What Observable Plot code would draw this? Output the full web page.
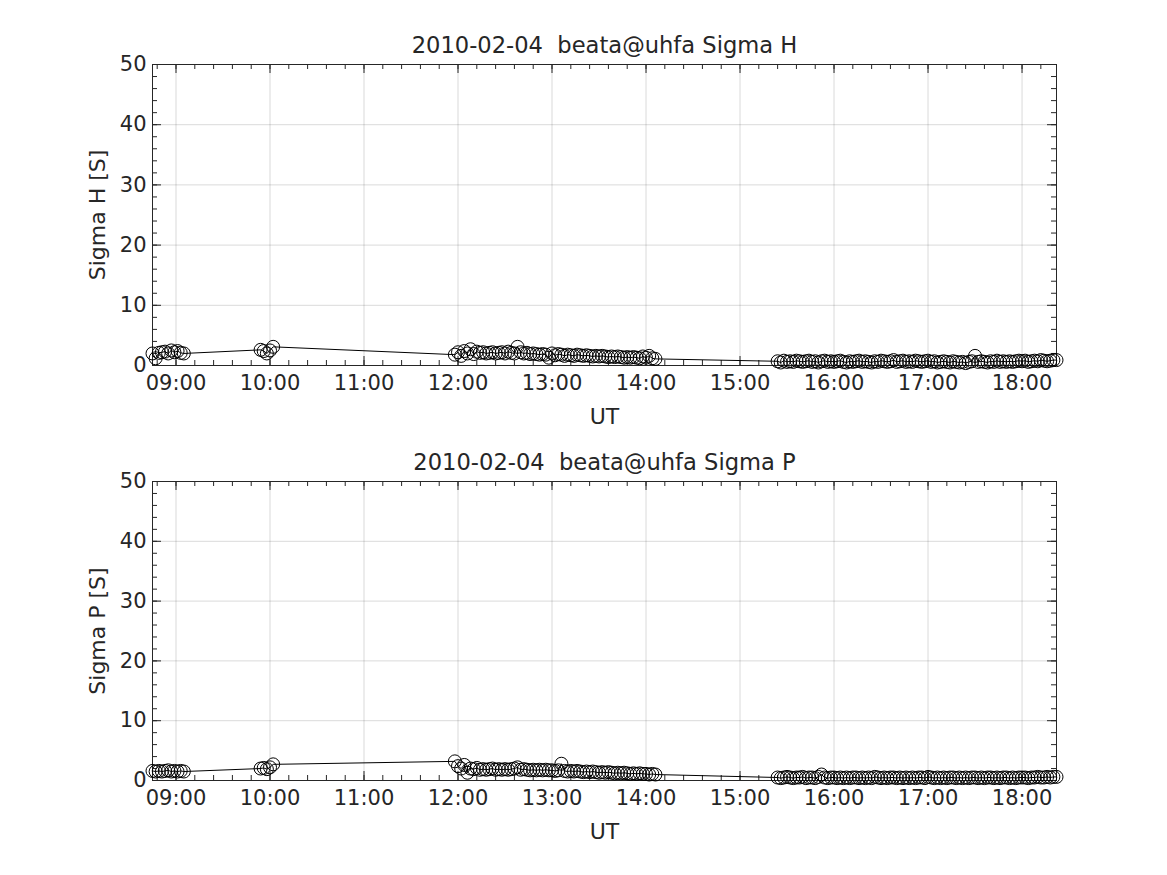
<!DOCTYPE html>
<html>
<head>
<meta charset="utf-8">
<script src="https://cdn.jsdelivr.net/npm/d3@7"></script>
<script src="https://cdn.jsdelivr.net/npm/@observablehq/plot@0.6"></script>
<style>
  html, body { margin: 0; padding: 0; background: #fff; }
  #wrap { width: 1167px; height: 875px; position: relative; background: #fff; }
  #wrap svg { display: block; font-family: "DejaVu Sans", sans-serif; }
</style>
</head>
<body>
<div id="wrap"></div>
<script>
const day = "2010-02-04";
const times = `
08:45 08:47 08:49 08:51 08:53 08:55 08:57 08:59 09:01 09:03 09:05
09:54 09:56 09:58 10:00 10:02
11:58 12:00 12:02 12:04 12:06 12:08 12:10 12:12 12:14 12:16 12:18 12:20 12:22 12:24 12:26 12:28 12:30 12:32 12:34 12:36 12:38 12:40 12:42 12:44 12:46 12:48 12:50 12:52 12:54 12:56 12:58
13:00 13:02 13:04 13:06 13:08 13:10 13:12 13:14 13:16 13:18 13:20 13:22 13:24 13:26 13:28 13:30 13:32 13:34 13:36 13:38 13:40 13:42 13:44 13:46 13:48 13:50 13:52 13:54 13:56 13:58
14:00 14:02 14:04 14:06
15:24 15:26 15:28 15:30 15:32 15:34 15:36 15:38 15:40 15:42 15:44 15:46 15:48 15:50 15:52 15:54 15:56 15:58
16:00 16:02 16:04 16:06 16:08 16:10 16:12 16:14 16:16 16:18 16:20 16:22 16:24 16:26 16:28 16:30 16:32 16:34 16:36 16:38 16:40 16:42 16:44 16:46 16:48 16:50 16:52 16:54 16:56 16:58
17:00 17:02 17:04 17:06 17:08 17:10 17:12 17:14 17:16 17:18 17:20 17:22 17:24 17:26 17:28 17:30 17:32 17:34 17:36 17:38 17:40 17:42 17:44 17:46 17:48 17:50 17:52 17:54 17:56 17:58
18:00 18:02 18:04 18:06 18:08 18:10 18:12 18:14 18:16 18:18 18:20 18:22
`.trim().split(/\s+/);

const sigmaH = [
  2.0, 1.2, 2.1, 2.2, 2.3, 2.0, 2.5, 2.2, 2.4, 2.1, 2.0,
  2.6, 2.4, 2.0, 2.5, 3.1,
  1.8, 2.2, 1.6, 2.4, 2.0, 2.7, 1.9, 2.3, 2.1, 2.2, 2.0, 2.1, 2.2, 2.0, 2.1, 2.2, 2.0, 2.3, 2.1, 2.0, 3.1, 2.2, 2.0, 2.1, 1.9, 2.0, 1.9, 1.8, 1.9, 1.8, 1.3,
  2.0, 1.7, 1.9, 1.8, 1.6, 1.8, 1.7, 1.6, 1.8, 1.7, 1.6, 1.7, 1.6, 1.5, 1.6, 1.5, 1.6, 1.5, 1.4, 1.5, 1.4, 1.5, 1.4, 1.3, 1.4, 1.3, 1.4, 1.3, 1.2, 1.5,
  1.3, 1.6, 1.2, 1.1,
  0.7, 0.5, 0.8, 0.6, 0.7, 0.6, 0.8, 0.7, 0.6, 0.7, 0.8, 0.6, 0.7, 0.5, 0.7, 0.8, 0.6, 0.7,
  0.6, 0.7, 0.8, 0.6, 0.5, 0.7, 0.6, 0.7, 0.8, 0.6, 0.7, 0.6, 0.5, 0.7, 0.6, 0.8, 0.7, 0.6, 0.7, 0.9, 0.6, 0.7, 0.8, 0.6, 0.7, 0.6, 0.8, 0.7, 0.6, 0.7,
  0.8, 0.6, 0.7, 0.5, 0.6, 0.7, 0.6, 0.5, 0.7, 0.6, 0.5, 0.6, 0.4, 0.6, 0.7, 1.6, 0.6, 0.7, 0.6, 0.5, 0.7, 0.6, 0.8, 0.6, 0.7, 0.6, 0.7, 0.6, 0.7, 0.8,
  0.7, 0.8, 0.6, 0.7, 0.8, 0.7, 0.9, 0.8, 0.7, 0.8, 0.9, 0.9
];

const sigmaP = [
  1.6, 1.5, 1.6, 1.5, 1.6, 1.7, 1.5, 1.6, 1.5, 1.6, 1.5,
  2.0, 2.1, 1.9, 2.2, 2.7,
  3.2, 2.4, 2.0, 2.6, 1.3, 2.0, 1.9, 2.1, 1.8, 1.9, 1.8, 1.9, 2.0, 1.8, 1.9, 1.8, 1.9, 1.8, 1.9, 2.0, 2.2, 1.8, 1.9, 1.8, 1.7, 1.8, 1.7, 1.8, 1.7, 1.8, 1.7,
  1.7, 1.6, 1.7, 2.8, 1.6, 1.5, 1.6, 1.5, 1.6, 1.5, 1.4, 1.5, 1.4, 1.5, 1.4, 1.3, 1.4, 1.3, 1.4, 1.3, 1.2, 1.3, 1.2, 1.3, 1.2, 1.1, 1.2, 1.1, 1.2, 1.1,
  1.1, 1.0, 1.1, 1.0,
  0.5, 0.4, 0.5, 0.6, 0.5, 0.4, 0.5, 0.5, 0.6, 0.4, 0.5, 0.5, 0.4, 0.6, 1.0, 0.5, 0.4, 0.5,
  0.5, 0.4, 0.5, 0.4, 0.5, 0.4, 0.5, 0.5, 0.4, 0.5, 0.4, 0.5, 0.4, 0.6, 0.5, 0.4, 0.5, 0.4, 0.5, 0.5, 0.4, 0.5, 0.4, 0.5, 0.4, 0.5, 0.4, 0.5, 0.5, 0.4,
  0.6, 0.5, 0.4, 0.5, 0.4, 0.5, 0.4, 0.5, 0.5, 0.4, 0.5, 0.4, 0.5, 0.4, 0.5, 0.5, 0.4, 0.5, 0.4, 0.5, 0.5, 0.4, 0.5, 0.4, 0.5, 0.5, 0.4, 0.5, 0.4, 0.5,
  0.5, 0.5, 0.4, 0.5, 0.5, 0.6, 0.5, 0.5, 0.6, 0.5, 0.6, 0.6
];

const xTickLabels = ["09:00","10:00","11:00","12:00","13:00","14:00","15:00","16:00","17:00","18:00"];
const yTicks = [0, 10, 20, 30, 40, 50];
const titles = ["2010-02-04  beata@uhfa Sigma H", "2010-02-04  beata@uhfa Sigma P"];
const yLabels = ["Sigma H [S]", "Sigma P [S]"];
const xLabel = "UT";

const toDate = t => new Date(`${day}T${t}:00Z`);
const xDomain = [toDate(times[0]), toDate(times[times.length - 1])];
const xMajor = xTickLabels.map(toDate);
const xMinor = d3.utcMinute.every(12).range(xDomain[0], new Date(+xDomain[1] + 1));
const yMinor = d3.range(0, 51, 2);

const W = 1167, ML = 152, MR = 1167 - 1056;
const PW = W - ML - MR;
const ink = "#262626";
const FS = 21, LFS = 22, TFS = 22.6;

function panel(values, title, ylabel, height, marginTop, marginBottom) {
  const data = times.map((t, i) => ({t: toDate(t), v: values[i]}));
  const PH = height - marginTop - marginBottom;
  return Plot.plot({
    width: W, height, marginLeft: ML, marginRight: MR, marginTop, marginBottom,
    style: {fontFamily: "DejaVu Sans, sans-serif", fontSize: FS + "px", color: ink, background: "#fff", overflow: "visible"},
    x: {type: "utc", domain: xDomain, axis: null},
    y: {domain: [0, 50], axis: null},
    marks: [
      Plot.ruleX(xMajor, {stroke: "#000", strokeOpacity: 0.15}),
      Plot.ruleY(yTicks, {stroke: "#000", strokeOpacity: 0.15}),
      Plot.tickX(xMajor, {stroke: ink, insetTop: PH - 9}),
      Plot.tickX(xMajor, {stroke: ink, insetBottom: PH - 9}),
      Plot.tickX(xMinor, {stroke: ink, insetTop: PH - 5}),
      Plot.tickX(xMinor, {stroke: ink, insetBottom: PH - 5}),
      Plot.tickY(yTicks, {stroke: ink, insetRight: PW - 9}),
      Plot.tickY(yTicks, {stroke: ink, insetLeft: PW - 9}),
      Plot.tickY(yMinor, {stroke: ink, insetRight: PW - 5}),
      Plot.tickY(yMinor, {stroke: ink, insetLeft: PW - 5}),
      Plot.frame({stroke: ink, strokeWidth: 1}),
      Plot.line(data, {x: "t", y: "v", stroke: "#000", strokeWidth: 1}),
      Plot.dot(data, {x: "t", y: "v", r: 6.5, stroke: "#000", fill: "none", strokeWidth: 1}),
      Plot.axisX({ticks: xMajor, tickFormat: d3.utcFormat("%H:%M"), tickSize: 0, tickPadding: 10, fontSize: FS, label: null, color: ink}),
      Plot.axisY({ticks: yTicks, tickSize: 0, tickPadding: 6, fontSize: FS, label: null, color: ink}),
      Plot.text([title], {frameAnchor: "top", dy: -19, lineAnchor: "middle", textAnchor: "middle", fontSize: TFS, fill: ink, text: d => d}),
      Plot.text([xLabel], {frameAnchor: "bottom", dy: 51, lineAnchor: "middle", textAnchor: "middle", fontSize: LFS, fill: ink, text: d => d}),
      Plot.text([ylabel], {frameAnchor: "left", dx: -55, rotate: -90, lineAnchor: "middle", textAnchor: "middle", fontSize: LFS, fill: ink, text: d => d})
    ]
  });
}

const wrap = document.getElementById("wrap");
wrap.append(panel(sigmaH, titles[0], yLabels[0], 435, 64, 70));
wrap.append(panel(sigmaP, titles[1], yLabels[1], 440, 46, 95));
</script>
</body>
</html>
